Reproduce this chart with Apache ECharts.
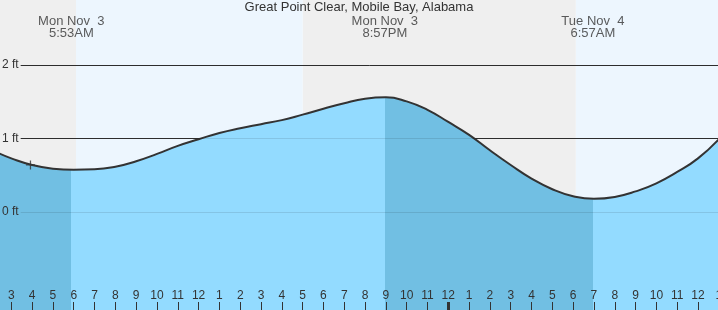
<!DOCTYPE html>
<html>
<head>
<meta charset="utf-8">
<script src="https://cdn.jsdelivr.net/npm/echarts@6/dist/echarts.min.js"></script>
<style>html,body{margin:0;padding:0;background:#fff}#c{width:718px;height:310px}</style>
</head>
<body>
<div id="c"></div>
<script>
// ---- data (hours counted from Mon Nov 3 00:00) ----
const title = 'Great Point Clear, Mobile Bay, Alabama';
const tideHours = [2.4, 3, 4, 5, 6, 7, 8, 9, 10, 11, 12, 13, 14, 15, 16, 17, 18, 19, 20, 21, 22, 23, 24, 25, 26, 27, 28, 29, 30, 31, 32, 33, 34, 35, 36, 37];
const tideFeet = [0.80, 0.73, 0.64, 0.59, 0.575, 0.58, 0.615, 0.69, 0.79, 0.90, 0.99, 1.075, 1.14, 1.195, 1.25, 1.325, 1.405, 1.48, 1.54, 1.56, 1.505, 1.39, 1.225, 1.05, 0.84, 0.64, 0.455, 0.31, 0.215, 0.18, 0.205, 0.28, 0.39, 0.545, 0.73, 0.99];
const tideEventHours = [5.883, 20.95, 30.95];
const tideEventLabels = ['Mon Nov  3\n5:53AM', 'Mon Nov  3\n8:57PM', 'Tue Nov  4\n6:57AM'];
const sunriseHours = [6.11, 30.13];
const sunsetHours = [17.0];
const nowHour = 3.92;
const nowFeet = 0.64;
const xTickLabels = ['12','1','2','3','4','5','6','7','8','9','10','11','12','1','2','3','4','5','6','7','8','9','10','11','12','1','2','3','4','5','6','7','8','9','10','11','12','1'];
const yTickValues = [0, 1, 2];
const yTickLabels = ['0 ft', '1 ft', '2 ft'];
const blackGridValues = [1, 2];
const midnightHours = [24];

// ---- layout / style ----
const X_MIN = 0, X_MAX = 37, Y_MIN = -2, Y_MAX = 3;
const LINE_START = 3.45;
const LABEL_LEVEL = 2.515;
const NIGHT = '#EFEFEF', DAY = '#EDF6FE';
const WATER_RISE = '#93DBFF', WATER_FALL = '#71BFE3';
const TXT = '#333';
const FONT = '"Liberation Sans", Arial, sans-serif';

const nightBands = [[X_MIN, sunriseHours[0]], [sunsetHours[0], sunriseHours[1]]];
const dayBands = [[sunriseHours[0], sunsetHours[0]], [sunriseHours[1], X_MAX]];

const pieces = [
  { lt: tideEventHours[0], color: WATER_FALL },
  { gte: tideEventHours[0], lt: tideEventHours[1], color: WATER_RISE },
  { gte: tideEventHours[1], lt: tideEventHours[2], color: WATER_FALL },
  { gte: tideEventHours[2], color: WATER_RISE }
];

const chart = echarts.init(document.getElementById('c'), null, { renderer: 'canvas' });
chart.setOption({
  animation: false,
  backgroundColor: '#fff',
  title: {
    text: title, left: 'center', top: 1, padding: 0,
    textStyle: { fontSize: 13, fontWeight: 'normal', color: TXT, fontFamily: FONT }
  },
  grid: { left: -51.1, right: -0.8, top: -8.5, bottom: -49, containLabel: false, outerBoundsMode: 'none' },
  xAxis: [{
    type: 'value', min: X_MIN, max: X_MAX, interval: 1, offset: -49, z: 10, position: 'bottom',
    axisLine: { show: false, onZero: false },
    splitLine: { show: false },
    axisTick: { show: true, inside: true, length: 8, lineStyle: { color: TXT, width: 1 } },
    axisLabel: {
      inside: true, margin: 8, color: TXT, fontSize: 12, fontFamily: FONT,
      showMinLabel: true, showMaxLabel: true, hideOverlap: false,
      formatter: v => xTickLabels[Math.round(v)] || ''
    }
  }, {
    type: 'value', min: X_MIN, max: X_MAX, offset: -49, z: 11, position: 'bottom',
    axisLine: { show: false, onZero: false }, splitLine: { show: false },
    axisLabel: { show: false },
    axisTick: { show: true, inside: true, length: 8, customValues: midnightHours, lineStyle: { color: TXT, width: 3 } }
  }],
  yAxis: {
    type: 'value', min: Y_MIN, max: Y_MAX, interval: 1, offset: -51.1, z: 10, position: 'left',
    axisLine: { show: false, onZero: false }, axisTick: { show: false }, splitLine: { show: false },
    axisLabel: {
      inside: true, margin: 2, color: TXT, fontSize: 12, fontFamily: FONT,
      formatter: v => { const i = yTickValues.indexOf(Math.round(v)); return i >= 0 ? yTickLabels[i] : ''; }
    }
  },
  visualMap: {
    type: 'piecewise', show: false, dimension: 0, seriesIndex: 2, pieces: pieces
  },
  series: [
    {
      type: 'line', data: [], silent: true,
      markArea: {
        silent: true, z: 0,
        data: nightBands.map(b => [{ xAxis: b[0], itemStyle: { color: NIGHT } }, { xAxis: b[1] }])
          .concat(dayBands.map(b => [{ xAxis: b[0], itemStyle: { color: DAY } }, { xAxis: b[1] }]))
      }
    },
    {
      type: 'line', data: [], silent: true,
      markLine: {
        silent: true, z: 1, symbol: 'none', label: { show: false },
        lineStyle: { color: TXT, width: 1, type: 'solid' },
        data: blackGridValues.map(v => [{ coord: [LINE_START, v] }, { coord: [X_MAX, v] }])
      }
    },
    {
      type: 'line', z: 2, smooth: 0.5, symbol: 'none', silent: true,
      data: tideHours.map((h, i) => [h, tideFeet[i]]),
      lineStyle: { color: '#333', width: 2 },
      areaStyle: { opacity: 1, origin: 'start' }
    },
    {
      type: 'line', data: [], silent: true,
      markLine: {
        silent: true, z: 3, symbol: 'none', label: { show: false },
        lineStyle: { color: 'rgba(0,0,0,0.1)', width: 1, type: 'solid' },
        data: yTickValues.map(v => [{ coord: [LINE_START, v] }, { coord: [X_MAX, v] }])
      }
    },
    {
      type: 'scatter', z: 5, silent: true, symbolSize: 0,
      data: tideEventHours.map((h, i) => ({ value: [h, LABEL_LEVEL], name: tideEventLabels[i] })),
      label: {
        show: true, position: 'inside', formatter: p => p.name,
        color: TXT, fontSize: 13, lineHeight: 12, fontFamily: FONT, align: 'center'
      }
    },
    {
      type: 'scatter', z: 6, silent: true, symbolSize: 9,
      symbol: 'path://M0,4.3h10v1.4h-10z M4.3,0h1.4v10h-1.4z',
      itemStyle: { color: '#333' },
      data: [[nowHour, nowFeet]]
    }
  ]
});
</script>
</body>
</html>
